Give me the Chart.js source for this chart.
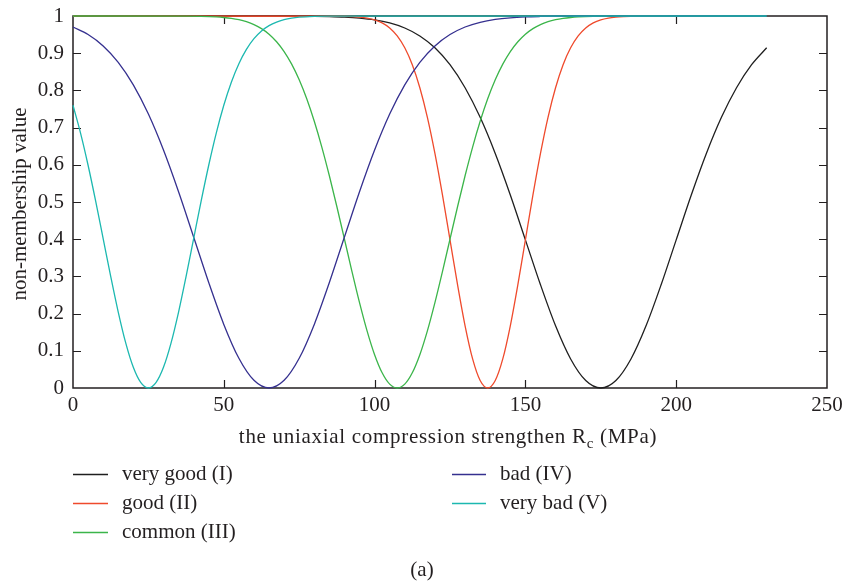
<!DOCTYPE html>
<html>
<head>
<meta charset="utf-8">
<script src="https://cdn.jsdelivr.net/npm/chart.js@4.4.1/dist/chart.umd.min.js"></script>
<style>
  html, body { margin: 0; padding: 0; background: #ffffff; }
  #wrap { width: 844px; height: 582px; position: relative; }
</style>
</head>
<body>
<div id="wrap"><canvas id="c" width="844" height="582"></canvas></div>
<script>
// ---- Data ----
const seriesNames = ["very good (I)", "good (II)", "common (III)", "bad (IV)", "very bad (V)"];

const xVeryGood = [0, 80, 85, 90, 95, 100, 105, 110, 115, 120, 125, 130, 135, 140, 145, 150, 155, 160, 165, 170, 175, 180, 185, 190, 195, 200, 205, 210, 215, 220, 225, 230];
const yVeryGood = [1, 0.9993, 0.9986, 0.9972, 0.9945, 0.9897, 0.9814, 0.9678, 0.9464, 0.9145, 0.869, 0.8072, 0.7277, 0.6306, 0.5189, 0.3983, 0.2776, 0.1672, 0.0781, 0.0201, 0, 0.0201, 0.0781, 0.1672, 0.2776, 0.3983, 0.5189, 0.6306, 0.7277, 0.8072, 0.869, 0.9145];

const xGood = [0, 90, 92.5, 95, 97.5, 100, 102.5, 105, 107.5, 110, 112.5, 115, 117.5, 120, 122.5, 125, 127.5, 130, 132.5, 135, 137.5, 140, 142.5, 145, 147.5, 150, 152.5, 155, 157.5, 160, 162.5, 165, 167.5, 170, 172.5, 175, 177.5, 180, 182.5, 185, 230];
const yGood = [1, 0.9993, 0.9986, 0.9972, 0.9945, 0.9897, 0.9814, 0.9678, 0.9464, 0.9145, 0.869, 0.8072, 0.7277, 0.6306, 0.5189, 0.3983, 0.2776, 0.1672, 0.0781, 0.0201, 0, 0.0201, 0.0781, 0.1672, 0.2776, 0.3983, 0.5189, 0.6306, 0.7277, 0.8072, 0.869, 0.9145, 0.9464, 0.9678, 0.9814, 0.9897, 0.9945, 0.9972, 0.9986, 0.9993, 1];

const xCommon = [0, 37.5, 42.5, 47.5, 50, 52.5, 55, 57.5, 60, 62.5, 65, 67.5, 70, 72.5, 75, 77.5, 80, 82.5, 85, 87.5, 90, 92.5, 95, 97.5, 100, 102.5, 105, 107.5, 110, 112.5, 115, 117.5, 120, 122.5, 125, 127.5, 130, 132.5, 135, 137.5, 140, 142.5, 145, 147.5, 150, 152.5, 155, 157.5, 160, 162.5, 165, 167.5, 172.5, 177.5, 230];
const yCommon = [1, 0.9997, 0.9991, 0.9975, 0.996, 0.9936, 0.99, 0.9846, 0.9769, 0.966, 0.951, 0.9308, 0.9044, 0.8706, 0.8286, 0.7774, 0.717, 0.6477, 0.5705, 0.4872, 0.4003, 0.3131, 0.2296, 0.1537, 0.0896, 0.0409, 0.0104, 0, 0.0104, 0.0409, 0.0896, 0.1537, 0.2296, 0.3131, 0.4003, 0.4872, 0.5705, 0.6477, 0.717, 0.7774, 0.8286, 0.8706, 0.9044, 0.9308, 0.951, 0.966, 0.9769, 0.9846, 0.99, 0.9936, 0.996, 0.9975, 0.9991, 0.9997, 1];

const xBad = [0, 5, 10, 15, 20, 25, 30, 35, 40, 45, 50, 55, 60, 65, 70, 75, 80, 85, 90, 95, 100, 105, 110, 115, 120, 125, 130, 135, 140, 145, 150, 155, 160, 165, 230];
const yBad = [0.9704, 0.9502, 0.9196, 0.8755, 0.815, 0.7364, 0.6397, 0.5276, 0.4059, 0.2835, 0.171, 0.0799, 0.0206, 0, 0.0206, 0.0799, 0.171, 0.2835, 0.4059, 0.5276, 0.6397, 0.7364, 0.815, 0.8755, 0.9196, 0.9502, 0.9704, 0.9831, 0.9908, 0.9952, 0.9976, 0.9988, 0.9995, 0.9998, 1];

const xVeryBad = [0, 2.5, 5, 7.5, 10, 12.5, 15, 17.5, 20, 22.5, 25, 27.5, 30, 32.5, 35, 37.5, 40, 42.5, 45, 47.5, 50, 52.5, 55, 57.5, 60, 62.5, 65, 67.5, 70, 72.5, 75, 80, 85, 230];
const yVeryBad = [0.76, 0.6852, 0.5988, 0.503, 0.4017, 0.3, 0.2041, 0.1205, 0.0555, 0.0142, 0, 0.0142, 0.0555, 0.1205, 0.2041, 0.3, 0.4017, 0.503, 0.5988, 0.6852, 0.76, 0.8221, 0.8719, 0.9103, 0.939, 0.9597, 0.9741, 0.9838, 0.9902, 0.9942, 0.9967, 0.999, 0.9997, 1];

const xTicks = [0, 50, 100, 150, 200, 250];
const yTicks = [0, 0.1, 0.2, 0.3, 0.4, 0.5, 0.6, 0.7, 0.8, 0.9, 1];

const xTitleMain = "the uniaxial compression strengthen R";
const xTitleSub = "c";
const xTitleEnd = " (MPa)";
const yTitle = "non-membership value";
const caption = "(a)";

// ---- Styles ----
const colors = ["#1f1f1f", "#ef4a2c", "#3bb54a", "#35308f", "#1cb8b0"];
const FONT = "'Liberation Serif', 'Times New Roman', serif";
const TEXT = "#231f20";

const xsList = [xVeryGood, xGood, xCommon, xBad, xVeryBad];
const ysList = [yVeryGood, yGood, yCommon, yBad, yVeryBad];

const datasets = seriesNames.map((name, i) => ({
  label: name,
  data: xsList[i].map((x, j) => ({ x: x, y: ysList[i][j] })),
  borderColor: colors[i],
  backgroundColor: colors[i],
  borderWidth: 1.3,
  pointRadius: 0,
  fill: false,
  cubicInterpolationMode: 'monotone',
  clip: false,
  order: 5 - i
}));

const PLOT_L = 73, PLOT_R = 827, PLOT_T = 16, PLOT_B = 388;

const framePlugin = {
  id: 'frame',
  beforeDatasetsDraw(chart) {
    const ctx = chart.ctx;
    const a = chart.chartArea;
    const xs = chart.scales.x, ys = chart.scales.y;
    ctx.save();
    ctx.strokeStyle = TEXT;
    ctx.lineWidth = 1.5;
    ctx.strokeRect(a.left, a.top, a.right - a.left, a.bottom - a.top);
    ctx.lineWidth = 1.2;
    const tl = 8;
    ctx.beginPath();
    xTicks.forEach(v => {
      const px = Math.round(xs.getPixelForValue(v)) + 0.5;
      if (v === xTicks[0] || v === xTicks[xTicks.length - 1]) return;
      ctx.moveTo(px, a.bottom); ctx.lineTo(px, a.bottom - tl);
      ctx.moveTo(px, a.top); ctx.lineTo(px, a.top + tl);
    });
    yTicks.forEach(v => {
      const py = Math.round(ys.getPixelForValue(v)) + 0.5;
      if (v === yTicks[0] || v === yTicks[yTicks.length - 1]) return;
      ctx.moveTo(a.left, py); ctx.lineTo(a.left + tl, py);
      ctx.moveTo(a.right, py); ctx.lineTo(a.right - tl, py);
    });
    ctx.stroke();
    ctx.restore();
  },
  afterDraw(chart) {
    const ctx = chart.ctx;
    const a = chart.chartArea;
    ctx.save();
    ctx.fillStyle = TEXT;
    // x title with subscript
    const mainFont = "21px " + FONT;
    const subFont = "15px " + FONT;
    ctx.letterSpacing = '0.7px';
    ctx.font = mainFont;
    const w1 = ctx.measureText(xTitleMain).width;
    const w3 = ctx.measureText(xTitleEnd).width;
    ctx.font = subFont;
    const w2 = ctx.measureText(xTitleSub).width;
    const total = w1 + w2 + w3;
    let x0 = (a.left + a.right) / 2 - total / 2 - 2;
    const base = 443;
    ctx.textBaseline = 'alphabetic';
    ctx.textAlign = 'left';
    ctx.font = mainFont;
    ctx.fillText(xTitleMain, x0, base);
    ctx.font = subFont;
    ctx.fillText(xTitleSub, x0 + w1, base + 5);
    ctx.font = mainFont;
    ctx.fillText(xTitleEnd, x0 + w1 + w2, base);
    ctx.letterSpacing = '0px';

    // y title
    ctx.save();
    ctx.translate(26, (a.top + a.bottom) / 2 + 2);
    ctx.rotate(-Math.PI / 2);
    ctx.textAlign = 'center';
    ctx.textBaseline = 'alphabetic';
    ctx.font = mainFont;
    ctx.fillText(yTitle, 0, 0);
    ctx.restore();

    // legend
    const rows = [474, 503, 532];
    const cols = [{ l: 73, r: 108, t: 122 }, { l: 452, r: 486, t: 500 }];
    seriesNames.forEach((name, i) => {
      const c = cols[i < 3 ? 0 : 1];
      const y = rows[i < 3 ? i : i - 3];
      ctx.strokeStyle = colors[i];
      ctx.lineWidth = 1.5;
      ctx.beginPath();
      ctx.moveTo(c.l, y + 0.5);
      ctx.lineTo(c.r, y + 0.5);
      ctx.stroke();
      ctx.fillStyle = TEXT;
      ctx.font = mainFont;
      ctx.textAlign = 'left';
      ctx.textBaseline = 'alphabetic';
      ctx.fillText(name, c.t, y + 6);
    });

    // caption
    ctx.textAlign = 'center';
    ctx.fillText(caption, 422, 576);
    ctx.restore();
  }
};

new Chart(document.getElementById('c'), {
  type: 'line',
  data: { datasets: datasets },
  options: {
    responsive: false,
    devicePixelRatio: 1,
    animation: false,
    layout: { padding: { left: 0, top: PLOT_T, right: 844 - PLOT_R, bottom: 0 } },
    plugins: { legend: { display: false }, tooltip: { enabled: false } },
    scales: {
      x: {
        type: 'linear',
        min: 0, max: 250,
        afterBuildTicks(scale) { scale.ticks = xTicks.map(v => ({ value: v })); },
        afterFit(scale) {
          scale.height = 582 - PLOT_B;
          scale.paddingLeft = 0; scale.paddingRight = 0;
        },
        grid: { display: false, drawTicks: false },
        border: { display: false },
        ticks: { color: TEXT, font: { family: FONT, size: 21 }, padding: 5, maxRotation: 0,
                 callback: v => String(v) }
      },
      y: {
        type: 'linear',
        min: 0, max: 1,
        afterBuildTicks(scale) { scale.ticks = yTicks.map(v => ({ value: v })); },
        afterFit(scale) {
          scale.width = PLOT_L;
          scale.paddingTop = 0; scale.paddingBottom = 0;
        },
        grid: { display: false, drawTicks: false },
        border: { display: false },
        ticks: { color: TEXT, font: { family: FONT, size: 21 }, padding: 9,
                 callback: v => String(v) }
      }
    }
  },
  plugins: [framePlugin]
});
</script>
</body>
</html>
